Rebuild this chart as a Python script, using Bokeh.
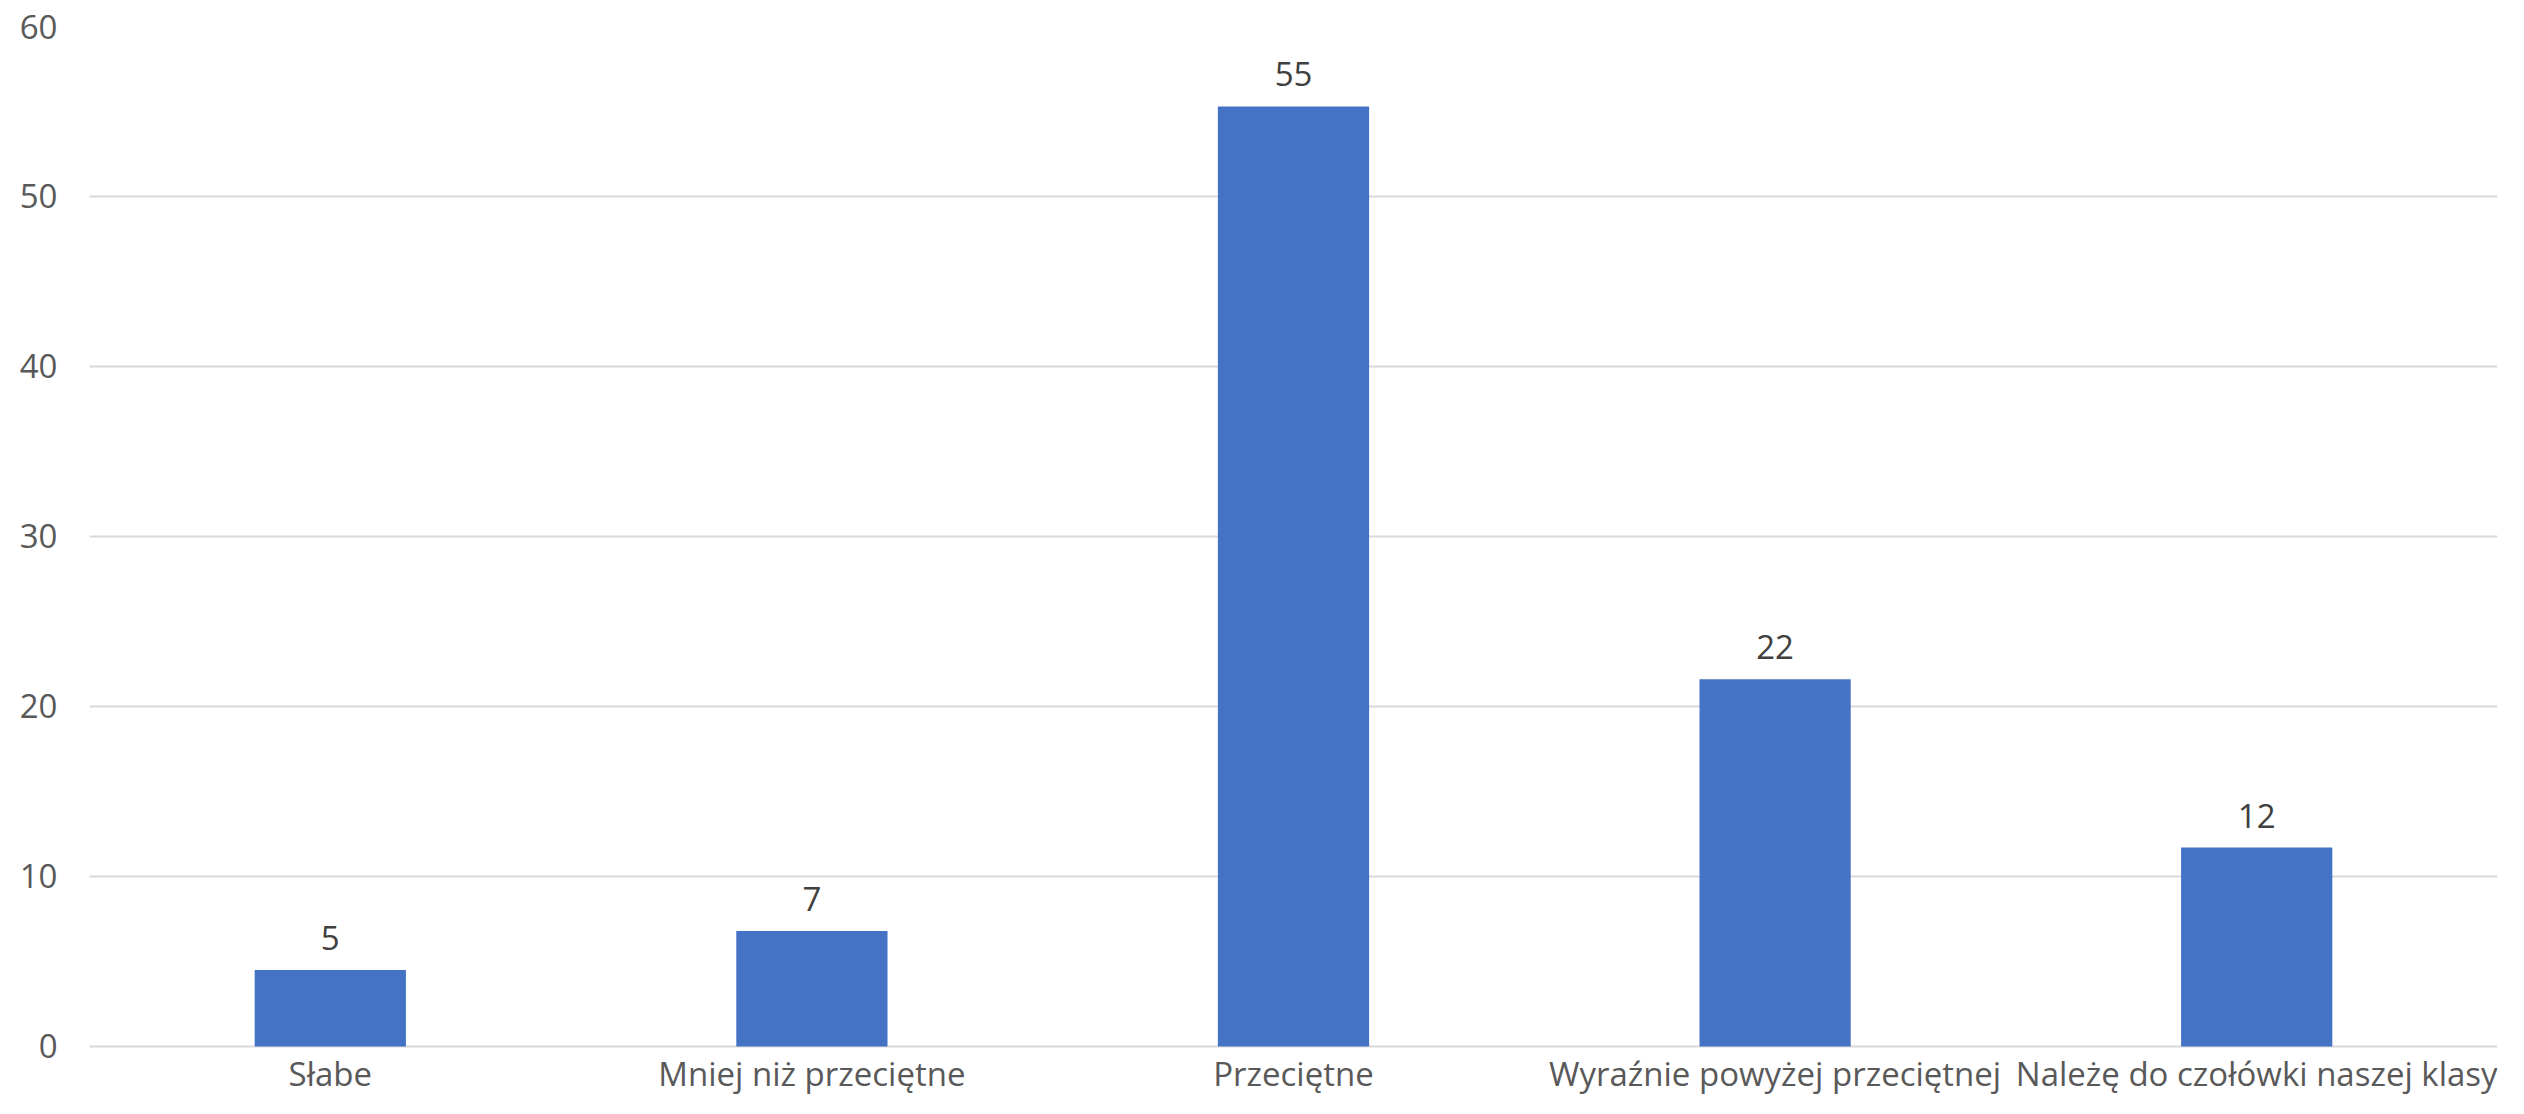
from bokeh.plotting import figure
from bokeh.models import ColumnDataSource, LabelSet, FactorRange, Range1d, FixedTicker
from bokeh.core.properties import value
from bokeh.embed import file_html
from bokeh.resources import INLINE

categories = ["Słabe", "Mniej niż przeciętne", "Przeciętne",
              "Wyraźnie powyżej przeciętnej", "Należę do czołówki naszej klasy"]
values = [4.5, 6.8, 55.3, 21.6, 11.7]
value_labels = [str(int(v + 0.5)) for v in values]
y_ticks = [0, 10, 20, 30, 40, 50, 60]

FONT = "Open Sans"
FS = "33px"

src = ColumnDataSource(dict(cat=categories, val=values, lab=value_labels,
                            base=[0] * len(categories)))

# frame extends below zero to hold the category labels (no clipping)
p = figure(x_range=FactorRange(*categories, range_padding=0),
           y_range=Range1d(-3.06, 60),
           width=2508, height=1098,
           output_backend="svg", toolbar_location=None,
           min_border_left=89, min_border_right=11,
           min_border_top=26, min_border_bottom=0)
p.outline_line_color = None
p.background_fill_color = "white"
p.border_fill_color = "white"

p.vbar(x="cat", top="val", bottom=0, width=0.314, source=src,
       fill_color="#4472C4", line_color=None)

labels = LabelSet(x="cat", y="val", text="lab", source=src,
                  text_align="center", text_baseline="bottom",
                  y_offset=20, text_font=value(FONT), text_font_size=value(FS),
                  text_color="#404040")
p.add_layout(labels)

cat_labels = LabelSet(x="cat", y="base", text="cat", source=src,
                      text_align="center", text_baseline="bottom",
                      y_offset=-50, text_font=value(FONT), text_font_size=value(FS),
                      text_color="#595959")
p.add_layout(cat_labels)

p.xaxis.visible = False

p.yaxis.ticker = FixedTicker(ticks=y_ticks)
p.yaxis.axis_line_color = None
p.yaxis.major_tick_line_color = None
p.yaxis.minor_tick_line_color = None
p.yaxis.major_label_standoff = 26
p.yaxis.major_label_text_font = FONT
p.yaxis.major_label_text_font_size = FS
p.yaxis.major_label_text_color = "#595959"

p.xgrid.grid_line_color = None
p.ygrid.grid_line_color = "#d9d9d9"
p.ygrid.grid_line_width = 2

open("out.html", "w").write(file_html(p, INLINE))
